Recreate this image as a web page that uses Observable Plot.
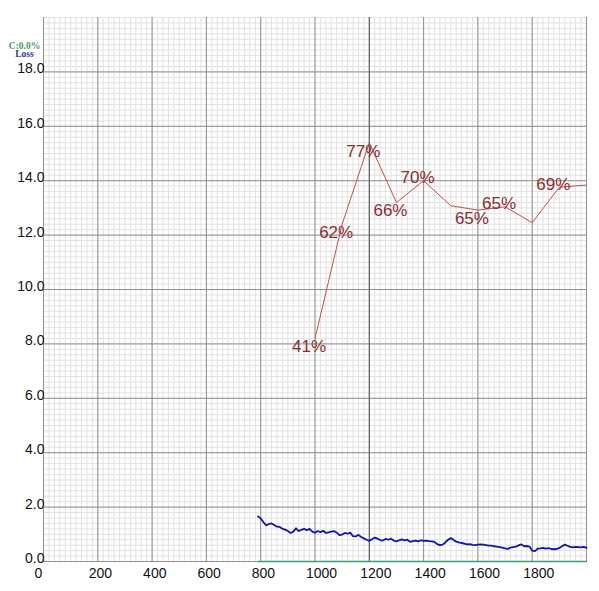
<!DOCTYPE html>
<html><head><meta charset="utf-8">
<script src="https://cdn.jsdelivr.net/npm/d3@7"></script>
<script src="https://cdn.jsdelivr.net/npm/@observablehq/plot@0.6"></script>
<style>
body{margin:0;background:#fff;}
#chart{position:absolute;left:0;top:0;}
</style></head><body><div id="chart"></div>
<script>
// Loss series: iterations 790..2000 every 10
const lossStart = 790, lossStep = 10;
const lossValues = [
  1.66,
  1.58,1.45,1.33,1.38,1.40,1.34,1.28,1.27,1.20,1.17,
  1.12,1.05,1.10,1.22,1.12,1.16,1.20,1.15,1.20,1.10,
  1.06,1.12,1.08,1.13,1.05,1.07,1.10,1.12,1.06,0.97,
  0.99,1.05,1.02,1.06,0.93,0.92,0.98,0.90,0.85,0.80,
  0.76,0.82,0.88,0.84,0.79,0.77,0.83,0.80,0.84,0.77,
  0.74,0.78,0.81,0.78,0.80,0.72,0.75,0.77,0.74,0.78,
  0.76,0.77,0.75,0.74,0.72,0.64,0.60,0.62,0.70,0.80,
  0.86,0.80,0.73,0.70,0.68,0.66,0.63,0.64,0.61,0.60,
  0.62,0.63,0.62,0.60,0.58,0.58,0.56,0.55,0.53,0.51,
  0.48,0.46,0.51,0.53,0.55,0.59,0.63,0.56,0.57,0.55,
  0.40,0.38,0.47,0.48,0.50,0.47,0.49,0.46,0.45,0.46,
  0.50,0.56,0.62,0.58,0.54,0.52,0.54,0.53,0.52,0.54,
  0.50
];
// mAP series (percent)
const mapIters  = [1000, 1100, 1200, 1300, 1400, 1500, 1600, 1700, 1800, 1900, 2000];
const mapValues = [41, 62, 77, 66, 70, 65.4, 64.6, 65.2, 62.3, 68.8, 69.2];
const mapLabels = ["41%", "62%", "77%", "66%", "70%", "", "65%", "65%", "", "69%", ""];
// accuracy (C) series
const accIters = [790, 2000];
const accValues = [0, 0];
// ticks
const xTicks = [0, 200, 400, 600, 800, 1000, 1200, 1400, 1600, 1800];
const yTicks = [0, 2, 4, 6, 8, 10, 12, 14, 16, 18];
const legendAcc = "C:0.0%";
const legendLoss = "Loss";

const loss = lossValues.map((v, i) => ({iter: lossStart + i * lossStep, loss: v}));
let runMax = -Infinity;
const mapData = mapIters.map((it, i) => {
  const v = mapValues[i];
  const prev = i > 0 ? mapValues[i - 1] : Infinity;
  // labels of points that rise without reaching a new maximum sit around the point, others below it
  const around = v > prev && v < runMax;
  runMax = Math.max(runMax, v);
  return {iter: it, y: v * 20 / 100, label: mapLabels[i], around};
});
const acc = accIters.map((it, i) => ({iter: it, v: accValues[i]}));

const xMinor = d3.range(0, 101).map(i => i * 20);
const yMinor = d3.range(0, 101).map(i => +(i * 0.2).toFixed(1));
const xMajor = d3.range(0, 11).map(i => i * 200);

const labelStyle = {x: "iter", y: "y", text: "label", textAnchor: "start", dx: -23,
  fontSize: 17, fill: "#8b2e2e"};

const plot = Plot.plot({
  width: 599, height: 591,
  marginLeft: 43, marginRight: 13, marginTop: 17, marginBottom: 30,
  x: {domain: [0, 2000]},
  y: {domain: [0, 20]},
  style: {fontFamily: "'Liberation Sans', Arial, sans-serif", background: "#fff"},
  marks: [
    Plot.ruleX(xMinor, {stroke: "#e2e2e2", strokeWidth: 1}),
    Plot.ruleY(yMinor, {stroke: "#e2e2e2", strokeWidth: 1}),
    Plot.ruleX(xMajor, {stroke: "#8f8f8f", strokeWidth: 1}),
    Plot.ruleY(yTicks, {stroke: "#8f8f8f", strokeWidth: 1}),
    Plot.ruleX([1200], {stroke: "#5a5a5a", strokeWidth: 1}),
    Plot.axisX({ticks: xTicks, tickSize: 0, tickPadding: 7, textAnchor: "start", dx: -9,
      fontSize: 14, color: "#111", label: null, tickFormat: d => String(d)}),
    Plot.axisY({ticks: yTicks, tickSize: 0, tickPadding: 0, dx: 1, dy: -3,
      fontSize: 14, color: "#111", label: null, tickFormat: d => d.toFixed(1)}),
    Plot.line(acc, {x: "iter", y: "v", stroke: "#3f9b72", strokeWidth: 1.6}),
    Plot.line(loss, {x: "iter", y: "loss", stroke: "#1414a8", strokeWidth: 1.8}),
    Plot.line(mapData, {x: "iter", y: "y", stroke: "#c0504d", strokeWidth: 1}),
    Plot.text(mapData.filter(d => d.label && !d.around), {...labelStyle, dy: 8.5}),
    Plot.text(mapData.filter(d => d.label && d.around), {...labelStyle, dy: -3}),
    Plot.text([legendAcc], {frameAnchor: "top-left", text: d => d, dx: -19, dy: 24.5,
      textAnchor: "middle", fontSize: 9.5, fontWeight: "bold", fontFamily: "'Liberation Serif', serif", fill: "#3f9b72"}),
    Plot.text([legendLoss], {frameAnchor: "top-left", text: d => d, dx: -19, dy: 33,
      textAnchor: "middle", fontSize: 9.5, fontWeight: "bold", fontFamily: "'Liberation Serif', serif", fill: "#33339a"})
  ]
});
document.getElementById("chart").appendChild(plot);
</script>
</body></html>
